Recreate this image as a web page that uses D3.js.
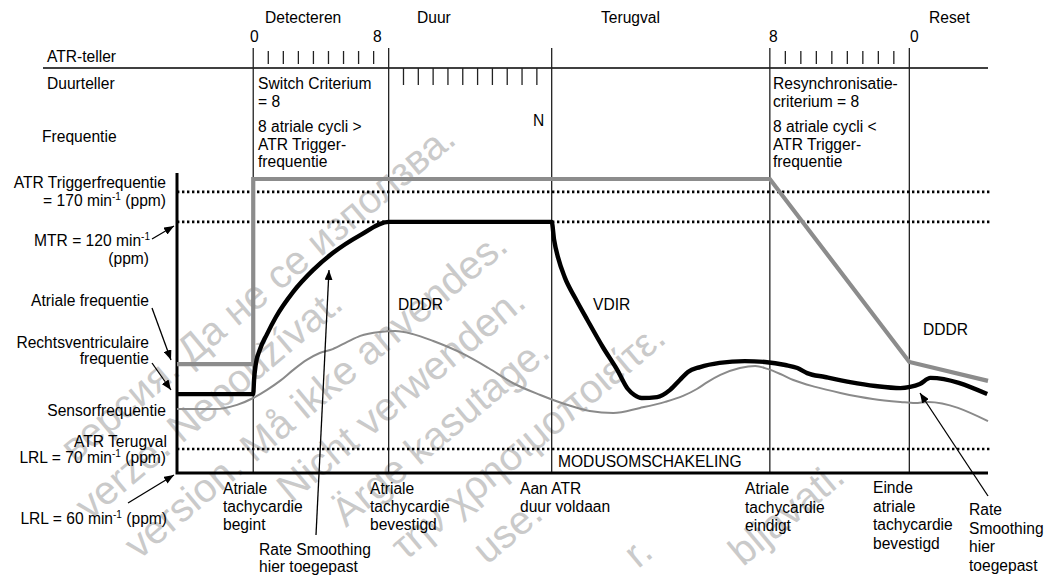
<!DOCTYPE html>
<html><head><meta charset="utf-8">
<script src="https://cdn.jsdelivr.net/npm/d3@7"></script>
<style>
body{margin:0;background:#fff}
text{font-family:"Liberation Sans",Arial,sans-serif;font-size:15.6px;fill:#000}
</style>
</head><body>
<svg id="c" width="1045" height="576"></svg>
<script>
// ---------- data ----------
const phaseLabels = ["Detecteren", "Duur", "Terugval", "Reset"];
const eventTimes = [9.4, 26.1, 46.2, 73.1, 90.3];
const atrTickCount = 8;        // ATR-teller cycles
const durationTickCount = 10;  // Duurteller cycles (N)
const triggerLevel = 93.7;     // ATR Triggerfrequentie 170
const mtrLevel = 83.7;         // MTR 120
const fallbackLevel = 8;       // ATR Terugval LRL 70

const atrialRate = [[0,36.3],[9.4,36.3],[9.4,98],[73.1,98],[90.3,37],[100,30.7]];
const ventricularRate = [[0,26.3],[9.4,26.3],[9.5,31],[9.7,36],[10.2,41],[11.1,46.3],[12.2,52],[14.3,60.3],
  [16.8,67.7],[19.2,73.3],[22.6,79.3],[26.1,83.7],[46.2,83.7],[46.5,77.7],[47,71.7],[47.8,65.3],[49.1,58.3],
  [50.6,51],[52.5,42],[54.3,34.3],[55.6,28],[56.4,26],[57.3,25],[59.2,25.3],[60.8,27.7],[62,31],[63,33.7],
  [64.5,35.3],[66.9,36.7],[70,37.3],[72.5,37],[75,36],[76.5,35],[77.7,33.3],[79.9,32],[83,30.3],[86.1,29],
  [89.2,28.3],[90.4,28.7],[91.6,29.7],[92.9,31.7],[99.9,26.3]];
const sensorRate = [[0,21.3],[4.7,21.3],[7.4,22.7],[9.4,25],[11.1,27.7],[12.7,30.7],[14.3,34.3],[16,37.7],
  [17.6,40],[19.2,41.3],[21,43.7],[22.6,45.7],[25,47],[26.9,47.3],[29.1,46.3],[31.6,44],[35.3,39.7],[38.4,35],
  [41.4,30],[44.8,26],[47.8,23],[50.9,20.7],[53.8,20],[57.1,21.7],[60.2,23.7],[62.4,25.7],[64.1,28],[65.4,30.3],
  [67,32.7],[69.4,35],[71.3,35.7],[72.8,34.7],[74.4,33],[76,31],[78.7,28.7],[81.8,26.7],[85.8,24.7],[89.2,23.7],
  [91,23.3],[92.6,23.7],[100,17.3]];

// watermark fragments visible in the picture
const watermarkTexts = [
  "версия. Да не се използва.",
  "verze. Nepoužívat.",
  "version. Må ikke anvendes.",
  "Nicht verwenden.",
  "Ärge kasutage.",
  "την χρησιμοποιείτε.",
  "use.",
  "r.",
  "bljavati."
];
const watermarkEnds = [[458,142],[345,307],[510,249],[528,305],[552,355],[668,341],[545,517],[655,555],[847,480]];

// ---------- setup ----------
const svg = d3.select("#c");
const x = d3.scaleLinear([0,100],[177,988]);
const y = d3.scaleLinear([0,100],[473,173]);

// watermark
const wm = svg.append("g");
watermarkTexts.forEach((t,i)=>{
  const [ex,ey] = watermarkEnds[i];
  wm.append("text").attr("transform",`translate(${ex},${ey}) rotate(-40)`)
    .attr("text-anchor","end").style("font-size","40px").style("fill","#cacaca").text(t);
});

// markers
const defs = svg.append("defs");
defs.append("marker").attr("id","arr").attr("markerUnits","userSpaceOnUse")
  .attr("markerWidth",10).attr("markerHeight",8).attr("refX",10).attr("refY",4).attr("orient","auto")
  .append("path").attr("d","M0,0L10,4L0,8Z").attr("fill","#000");

// top counter row
const topY = 68;
svg.append("line").attr("x1",43).attr("x2",988).attr("y1",topY).attr("y2",topY)
  .attr("stroke","#000").attr("stroke-width",1.5);

// event vertical lines
svg.selectAll(".ev").data(eventTimes).join("line")
  .attr("x1",d=>x(d)).attr("x2",d=>x(d)).attr("y1",48).attr("y2",473)
  .attr("stroke","#222").attr("stroke-width",1.3);

// counter ticks
function ticks(t0,t1,n,ya,yb){
  const arr = d3.range(1,n+1).map(k=>t0+(t1-t0)*k/(n+1));
  svg.append("g").selectAll("line").data(arr).join("line")
    .attr("x1",d=>x(d)).attr("x2",d=>x(d)).attr("y1",ya).attr("y2",yb)
    .attr("stroke","#222").attr("stroke-width",1.3);
}
ticks(eventTimes[0],eventTimes[1],atrTickCount,51,64);
ticks(eventTimes[3],eventTimes[4],atrTickCount,51,64);
ticks(eventTimes[1],eventTimes[2],durationTickCount,68,85);

// reference dotted lines
svg.selectAll(".lvl").data([triggerLevel,mtrLevel,fallbackLevel]).join("line")
  .attr("x1",x(0)).attr("x2",x(100)+2).attr("y1",d=>y(d)).attr("y2",d=>y(d))
  .attr("stroke","#000").attr("stroke-width",2.6).attr("stroke-dasharray","2.4 2.6");

// axes
svg.append("path").attr("d",`M${x(0)},${y(100)}V${y(0)}H${x(100)}`)
  .attr("fill","none").attr("stroke","#000").attr("stroke-width",3);

// series
const lin = d3.line().x(d=>x(d[0])).y(d=>y(d[1]));
const smooth = d3.line().x(d=>x(d[0])).y(d=>y(d[1])).curve(d3.curveMonotoneX);
svg.append("path").attr("d",smooth(sensorRate)).attr("fill","none")
  .attr("stroke","#8a8a8a").attr("stroke-width",2);
svg.append("path").attr("d",lin(atrialRate)).attr("fill","none")
  .attr("stroke","#8c8c8c").attr("stroke-width",4.2).attr("stroke-linejoin","miter");
svg.append("path").attr("d",smooth(ventricularRate)).attr("fill","none")
  .attr("stroke","#000").attr("stroke-width",4.4).attr("stroke-linejoin","round");

// ---------- text ----------
function txt(xp,yp,s,anchor){
  return svg.append("text").attr("x",xp).attr("y",yp).attr("text-anchor",anchor||"start").text(s);
}
function lines(xp,y0,arr,lh,anchor){ arr.forEach((s,i)=>txt(xp,y0+i*lh,s,anchor)); }
function supText(xp,yp,pre,post,anchor){
  const t = svg.append("text").attr("x",xp).attr("y",yp).attr("text-anchor",anchor||"start");
  t.append("tspan").text(pre);
  t.append("tspan").attr("dy",-6).style("font-size","10px").text("-1");
  t.append("tspan").attr("dy",6).text(post);
}

// phase headers
txt(265,23,phaseLabels[0]); txt(417,23,phaseLabels[1]); txt(601,23,phaseLabels[2]); txt(929,23,phaseLabels[3]);
txt(250,42,"0"); txt(373,42,"8"); txt(769,42,"8"); txt(910,42,"0");
txt(47,62,"ATR-teller"); txt(47,89,"Duurteller"); txt(42,142,"Frequentie");
lines(258,89,["Switch Criterium","= 8"],18);
lines(258,132,["8 atriale cycli >","ATR Trigger-","frequentie"],17.5);
lines(773,89,["Resynchronisatie-","criterium = 8"],18);
lines(773,132,["8 atriale cycli <","ATR Trigger-","frequentie"],17.5);
txt(533,126,"N");

// left labels
txt(166,188,"ATR Triggerfrequentie","end");
supText(166,206,"= 170 min"," (ppm)","end");
supText(150,246,"MTR = 120 min","","end");
txt(149,264,"(ppm)","end");
txt(149,306,"Atriale frequentie","end");
txt(149,347.5,"Rechtsventriculaire","end");
txt(149,364,"frequentie","end");
txt(166,416,"Sensorfrequentie","end");
txt(167,447,"ATR Terugval","end");
supText(166,463,"LRL = 70 min"," (ppm)","end");
supText(167,524,"LRL = 60 min"," (ppm)","end");

// plot labels
txt(398,310,"DDDR"); txt(593,310,"VDIR"); txt(923,335,"DDDR");
txt(558,467,"MODUSOMSCHAKELING");

// bottom labels
lines(223,494,["Atriale","tachycardie","begint"],18);
lines(259,555,["Rate Smoothing","hier toegepast"],16.5);
lines(370,494,["Atriale","tachycardie","bevestigd"],18);
lines(520,494,["Aan ATR","duur voldaan"],18);
lines(745,494,["Atriale","tachycardie","eindigt"],18.5);
lines(873,493,["Einde","atriale","tachycardie","bevestigd"],18.5);
lines(969,515,["Rate","Smoothing","hier","toegepast"],18.6);

// arrows
const arrows = [[152,239,174,226],[152,308,171,360],[152,363,171,390],[128,503,174,475],[316,535,329,270],[988,496,920,393]];
svg.selectAll(".arw").data(arrows).join("line")
  .attr("x1",d=>d[0]).attr("y1",d=>d[1]).attr("x2",d=>d[2]).attr("y2",d=>d[3])
  .attr("stroke","#000").attr("stroke-width",1.3).attr("marker-end","url(#arr)");
</script>
</body></html>
